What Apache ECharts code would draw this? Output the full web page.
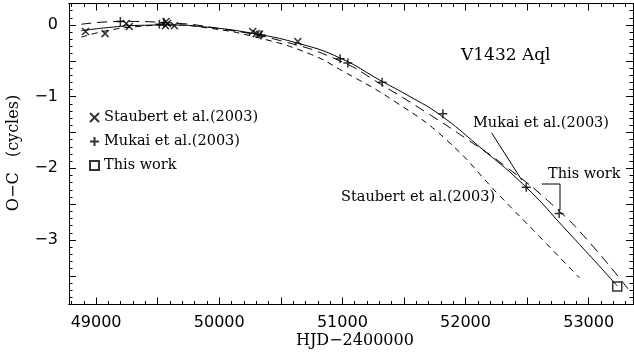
<!DOCTYPE html>
<html>
<head>
<meta charset="utf-8">
<script src="https://cdn.jsdelivr.net/npm/echarts@6/dist/echarts.min.js"></script>
<style>
  html, body { margin: 0; padding: 0; background: #fff; }
  #chart { width: 634px; height: 359px; }
</style>
</head>
<body>
<div id="chart"></div>
<script>
// observed timings (HJD-2400000, O-C in cycles)
const staubertPts = [
  [48914, -0.09], [49073, -0.12], [49244, 0.02], [49270, -0.02],
  [49563, -0.01], [49568, 0.05], [49580, 0.02], [49636, -0.01],
  [50272, -0.09], [50300, -0.12], [50327, -0.13], [50638, -0.23]
];
const mukaiPts = [
  [49197, 0.05], [49514, 0.01], [49550, 0.03], [50340, -0.14],
  [50982, -0.47], [51044, -0.53], [51323, -0.80], [51816, -1.24],
  [52493, -2.265], [52760, -2.63]
];
const thisWorkPts = [[53232, -3.65]];

// ephemeris curves
const curveThisWork = [
  [48880, -0.08], [49100, -0.035], [49350, -0.005], [49600, 0.0],
  [49900, -0.03], [50250, -0.11], [50650, -0.26], [50980, -0.46],
  [51315, -0.78], [51550, -1.0], [51790, -1.25], [52100, -1.68],
  [52490, -2.26], [52817, -2.86], [53000, -3.2], [53232, -3.64]
];
const curveMukai = [
  [48880, 0.01], [49200, 0.05], [49600, 0.03], [50000, -0.05],
  [50500, -0.22], [50980, -0.50], [51315, -0.83], [51700, -1.24],
  [52000, -1.58], [52330, -1.98], [52700, -2.50], [53000, -3.02],
  [53345, -3.74]
];
const curveStaubert = [
  [48880, -0.17], [49100, -0.075], [49350, -0.02], [49600, 0.0],
  [49900, -0.04], [50300, -0.17], [50730, -0.40], [51000, -0.64],
  [51437, -1.08], [51843, -1.6], [52276, -2.38], [52600, -2.95],
  [52926, -3.53]
];

const xLabels = [49000, 50000, 51000, 52000, 53000];
const yLabels = [0, -1, -2, -3];

const X_MIN = 48780, X_MAX = 53360, Y_MIN = -3.9, Y_MAX = 0.3;

function steps(from, to, step) {
  const out = [];
  for (let v = from; v <= to + 1e-9; v += step) out.push(Math.round(v * 1000) / 1000);
  return out;
}
const xMajor = steps(49000, 53000, 500);
const xMinor = steps(48800, 53300, 100);
const yMajor = steps(-3.5, 0, 0.5);
const yMinor = steps(-3.8, 0.3, 0.1);

const FONT = "DejaVu Serif";
const CROSS = "path://M0,0L10,10M10,0L0,10";
const PLUS = "path://M5,0L5,10M0,5L10,5";

function xAx(pos, ticks, len, labels) {
  return {
    type: "value", position: pos, min: X_MIN, max: X_MAX,
    axisLine: { show: true, onZero: false, lineStyle: { color: "#000", width: 1 } },
    splitLine: { show: false },
    axisTick: { show: true, inside: true, length: len, customValues: ticks, lineStyle: { color: "#000" } },
    axisLabel: labels
      ? { show: true, customValues: xLabels, color: "#000", fontSize: 16, fontFamily: "DejaVu Sans", margin: 10,
          formatter: (v) => String(v) }
      : { show: false },
  };
}
function yAx(pos, ticks, len, labels) {
  return {
    type: "value", position: pos, min: Y_MIN, max: Y_MAX,
    axisLine: { show: true, onZero: false, lineStyle: { color: "#000", width: 1 } },
    splitLine: { show: false },
    axisTick: { show: true, inside: true, length: len, customValues: ticks, lineStyle: { color: "#000" } },
    axisLabel: labels
      ? { show: true, customValues: yLabels, color: "#000", fontSize: 16, fontFamily: "DejaVu Sans", margin: 11,
          formatter: (v) => (v < 0 ? "\u2212" + Math.abs(v) : String(v)) }
      : { show: false },
  };
}

const option = {
  animation: false,
  backgroundColor: "#fff",
  grid: { left: 69, right: 1, top: 3.5, bottom: 54.5 },
  xAxis: [
    xAx("bottom", xMajor, 7, true),
    xAx("bottom", xMinor, 3.5, false),
    xAx("top", xMajor, 7, false),
    xAx("top", xMinor, 3.5, false),
  ],
  yAxis: [
    yAx("left", yMajor, 7, true),
    yAx("left", yMinor, 3.5, false),
    yAx("right", yMajor, 7, false),
    yAx("right", yMinor, 3.5, false),
  ],
  legend: {
    orient: "vertical", left: 84, top: 105, itemGap: 9, itemWidth: 9, itemHeight: 9,
    textStyle: { fontFamily: FONT, fontSize: 14.5, color: "#000" },
    data: [
      { name: "Staubert et al.(2003)", icon: CROSS },
      { name: "Mukai et al.(2003)", icon: PLUS },
      { name: "This work", icon: "rect" },
    ],
  },
  series: [
    { type: "line", data: curveThisWork, smooth: true, symbol: "none", silent: true,
      lineStyle: { color: "#000", width: 1 } },
    { type: "line", data: curveMukai, smooth: true, symbol: "none", silent: true,
      lineStyle: { color: "#000", width: 1, type: [10, 6] } },
    { type: "line", data: curveStaubert, smooth: true, symbol: "none", silent: true,
      lineStyle: { color: "#000", width: 1, type: [6, 5] } },
    { name: "Staubert et al.(2003)", type: "scatter", data: staubertPts, symbol: CROSS, symbolSize: 7,
      itemStyle: { color: "transparent", borderColor: "#000", borderWidth: 1.5 } },
    { name: "Mukai et al.(2003)", type: "scatter", data: mukaiPts, symbol: PLUS, symbolSize: 9,
      itemStyle: { color: "transparent", borderColor: "#000", borderWidth: 1.5 } },
    { name: "This work", type: "scatter", data: thisWorkPts, symbol: "rect", symbolSize: 9,
      itemStyle: { color: "#fff", borderColor: "#000", borderWidth: 1.5 } },
  ],
  graphic: [
    { type: "text", left: 461, top: 47, style: { text: "V1432 Aql", font: "17px " + FONT, fill: "#000" } },
    { type: "text", left: 473, top: 116, style: { text: "Mukai et al.(2003)", font: "14.5px " + FONT, fill: "#000" } },
    { type: "text", left: 548, top: 167, style: { text: "This work", font: "14.5px " + FONT, fill: "#000" } },
    { type: "text", left: 341, top: 190, style: { text: "Staubert et al.(2003)", font: "14.5px " + FONT, fill: "#000" } },
    { type: "line", shape: { x1: 491.7, y1: 133, x2: 521.7, y2: 180 }, style: { stroke: "#000", lineWidth: 1 } },
    { type: "polyline", shape: { points: [[541.7, 184], [560, 184], [560, 210]] }, style: { stroke: "#000", fill: null, lineWidth: 1 } },
    { type: "text", left: 296, top: 333, style: { text: "HJD\u22122400000", font: "16px " + FONT, fill: "#000" } },
    { type: "text", x: 14, y: 153, rotation: Math.PI / 2,
      style: { text: "O\u2212C   (cycles)", font: "16px " + FONT, fill: "#000", align: "center", verticalAlign: "middle" } },
  ],
};

const chart = echarts.init(document.getElementById("chart"));
chart.setOption(option);
</script>
</body>
</html>
